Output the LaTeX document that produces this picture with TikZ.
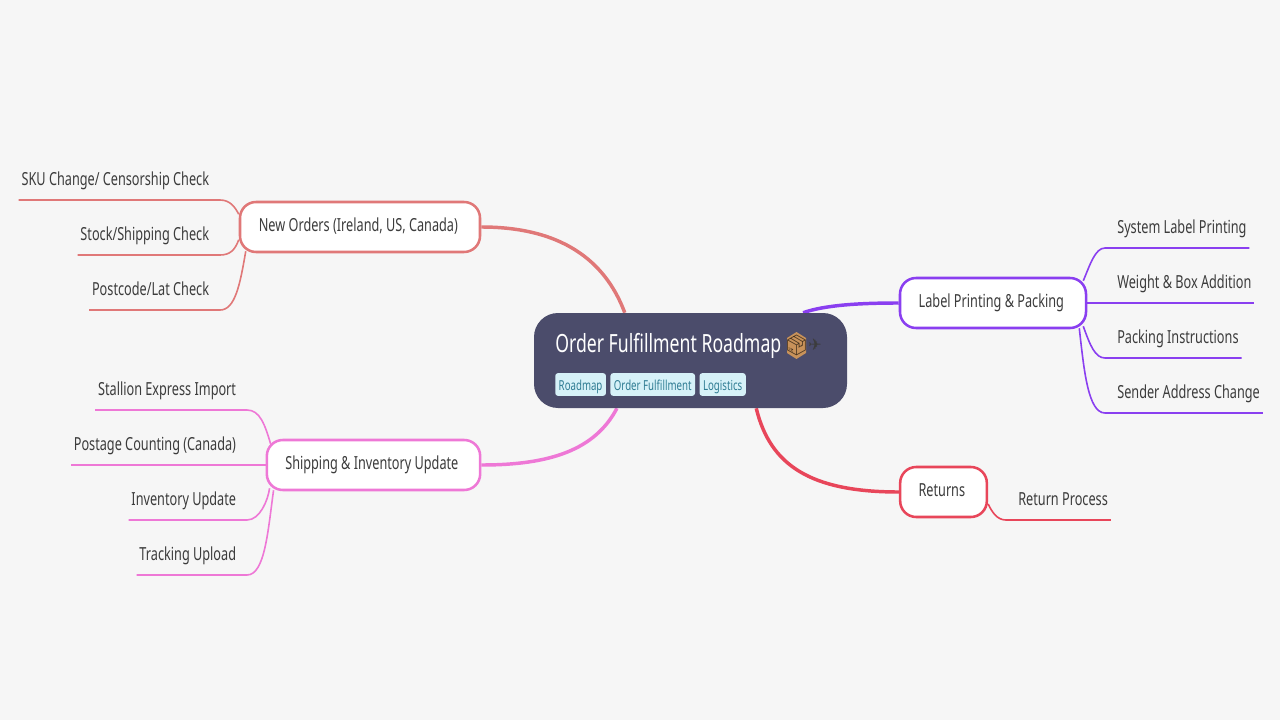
\documentclass[tikz,border=0pt]{standalone}
\usepackage{fontspec}
\setmainfont[FakeStretch=0.705]{Noto Sans}
\newfontfamily\emojifont{Noto Emoji}
\newfontfamily\planefont{DejaVu Sans}
\usetikzlibrary{positioning, backgrounds}
\definecolor{paper}{HTML}{F6F6F6}
\definecolor{ink}{HTML}{3C3C3C}
\definecolor{slate}{HTML}{4B4C6B}
\definecolor{tagfill}{HTML}{D6F1F8}
\definecolor{tagink}{HTML}{2F7C93}
\definecolor{coral}{HTML}{E07878}
\definecolor{orchid}{HTML}{EE78D6}
\definecolor{violet}{HTML}{8A3FF0}
\definecolor{crimson}{HTML}{E8465A}
\definecolor{cardboard}{HTML}{C8925A}
\tikzset{
  topic/.style={draw=#1,line width=1.9pt,fill=white,rounded corners=12pt,inner sep=0pt,minimum height=37.5pt,text height=10.5pt,text depth=3.2pt,text=ink,font=\fontsize{13.5}{16}\selectfont,execute at end node=\hspace*{2.5pt}},
  leaf/.style={inner sep=0pt,text height=10.5pt,text depth=11pt,text=ink,font=\fontsize{13.5}{16}\selectfont},
  leafl/.style={leaf,anchor=south east,execute at begin node=\hspace*{2pt},execute at end node=\hspace*{8pt}},
  leafr/.style={leaf,anchor=south west,execute at begin node=\hspace*{9pt},execute at end node=\hspace*{2pt}},
  tag/.style={fill=tagfill,text=tagink,rounded corners=2pt,inner xsep=2.6pt,inner ysep=0pt,minimum height=17pt,text height=10.5pt,text depth=2pt,font=\fontsize{10.3}{12}\selectfont},
  branch/.style={line width=2.6pt},
  twig/.style={line width=1.2pt}
}
\begin{document}
\begin{tikzpicture}[x=.75pt,y=-.75pt]
  \useasboundingbox (0,0) rectangle (1280,720);
  % main topic
  \node[fill=slate,rounded corners=18pt,minimum width=234.75pt,minimum height=71.25pt,inner sep=0pt] (order) at (690.5,360.5) {};
  \node[anchor=base west,inner sep=0pt,text=white,font=\fontsize{18.8}{22}\selectfont] (title) at (555,352) {Order Fulfillment Roadmap};
  \fill[cardboard] (796.5,332) -- (806,338) -- (806,353) -- (796.5,359) -- (787,353) -- (787,338) -- cycle;
  \node[inner sep=0pt,text=black!65!cardboard,font=\emojifont\fontsize{15}{18}\selectfont] (parcel) at (796.5,345.5) {📦};
  \node[inner sep=0pt,text=ink,font=\planefont\fontsize{12}{14}\selectfont] (plane) at (815,345) {✈};
  \node[tag,anchor=west] (tagroad) at (555,384.5) {Roadmap};
  \node[tag,right=3pt of tagroad] (tagfull) {Order Fulfillment};
  \node[tag,right=3pt of tagfull] (taglog) {Logistics};
  % topics
  \node[topic=coral,minimum width=180pt] (orders) at (360,227) {New Orders (Ireland, US, Canada)};
  \node[topic=orchid,minimum width=160pt] (shipping) at (373.5,465) {Shipping \& Inventory Update};
  \node[topic=violet,minimum width=139.5pt] (label) at (993,303) {Label Printing \& Packing};
  \node[topic=crimson,minimum width=65pt] (returns) at (943.5,492) {Returns};
  % leaves
  \path (220,200) node[leafl] (sku) {SKU Change/ Censorship Check}
  (220,255) node[leafl] (stock) {Stock/Shipping Check}
  (220,310) node[leafl] (postcode) {Postcode/Lat Check};
  \path (247,410) node[leafl] (stallion) {Stallion Express Import}
  (247,465) node[leafl] (postage) {Postage Counting (Canada)}
  (247,520) node[leafl] (inventory) {Inventory Update}
  (247,575) node[leafl] (tracking) {Tracking Upload};
  \path (1105,248) node[leafr] (system) {System Label Printing}
  (1105,303) node[leafr] (weight) {Weight \& Box Addition}
  (1105,358) node[leafr] (packing) {Packing Instructions}
  (1105,413) node[leafr] (sender) {Sender Address Change};
  \path (1006,520) node[leafr] (process) {Return Process};
  \begin{scope}[on background layer]
    \fill[paper] (0,0) rectangle (1280,720);
    \draw[branch,coral] (orders.east) .. controls (570,227) and (608,268) .. (order.144);
    \draw[branch,orchid] (shipping.east) .. controls (550,465) and (595,450) .. (order.213);
    \draw[branch,violet] (label.west) .. controls (860,303) and (825,305) .. (order.23.4);
    \draw[branch,crimson] (returns.west) .. controls (810,492) and (770,465) .. (order.-36);
    \draw[twig,coral] (orders.174) .. controls (235,207) and (230,200) .. (sku.south east) -- (sku.south west);
    \draw[twig,coral] (orders.186) .. controls (235,250) and (230,255) .. (stock.south east) -- (stock.south west);
    \draw[twig,coral] ([shift={(7,-2)}]orders.south west) .. controls (240,285) and (235,310) .. (postcode.south east) -- (postcode.south west);
    \draw[twig,orchid] ([shift={(5,5)}]shipping.north west) .. controls (265,425) and (260,410) .. (stallion.south east) -- (stallion.south west);
    \draw[twig,orchid] (shipping.west) -- (postage.south east) -- (postage.south west);
    \draw[twig,orchid] ([shift={(4,-3)}]shipping.south west) .. controls (268,500) and (260,520) .. (inventory.south east) -- (inventory.south west);
    \draw[twig,orchid] ([shift={(8,-1)}]shipping.south west) .. controls (268,530) and (265,575) .. (tracking.south east) -- (tracking.south west);
    \draw[twig,violet] ([shift={(-4,4)}]label.north east) .. controls (1090,265) and (1095,248) .. (system.south west) -- (system.south east);
    \draw[twig,violet] (label.east) -- (weight.south west) -- (weight.south east);
    \draw[twig,violet] ([shift={(-4,-3)}]label.south east) .. controls (1090,345) and (1095,358) .. (packing.south west) -- (packing.south east);
    \draw[twig,violet] ([shift={(-8,-1)}]label.south east) .. controls (1084,370) and (1088,413) .. (sender.south west) -- (sender.south east);
    \draw[twig,crimson] (returns.-15) .. controls (992,512) and (997,520) .. (process.south west) -- (process.south east);
  \end{scope}
\end{tikzpicture}
\end{document}
